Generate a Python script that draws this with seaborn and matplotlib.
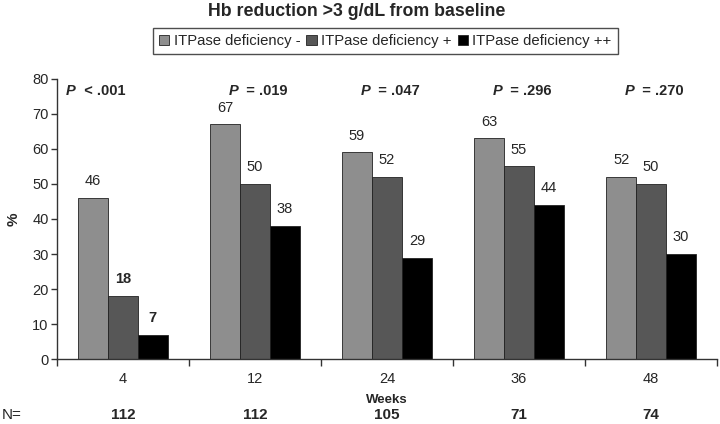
import pandas as pd
import numpy as np
import seaborn as sns
import matplotlib.pyplot as plt

weeks = ["4", "12", "24", "36", "48"]
groups = ["ITPase deficiency -", "ITPase deficiency +", "ITPase deficiency ++"]
pct_minus = [46, 67, 59, 63, 52]
pct_plus = [18, 50, 52, 55, 50]
pct_plusplus = [7, 38, 29, 44, 30]
p_values = ["< .001", "= .019", "= .047", "= .296", "= .270"]
n_counts = ["112", "112", "105", "71", "74"]
bold_labels = [(0, 1), (0, 2)]  # (week index, group index) shown in bold

df = pd.DataFrame({
    "Weeks": weeks * 3,
    "group": np.repeat(groups, len(weeks)),
    "pct": pct_minus + pct_plus + pct_plusplus,
})

sns.set_style("white")
plt.rcParams["font.family"] = ["Liberation Sans", "DejaVu Sans"]

fig, ax = plt.subplots(figsize=(7.2, 4.24), dpi=100)
bottom, top = 0.153, 0.814
fig.subplots_adjust(left=0.079, right=0.996, bottom=bottom, top=top)

palette = ["#8e8e8e", "#575757", "#000000"]
sns.barplot(data=df, x="Weeks", y="pct", hue="group", order=weeks, hue_order=groups,
            palette=palette, width=0.68, saturation=1, ax=ax,
            edgecolor="#222222", linewidth=0.6, legend=True)

ax.set_ylim(0, 80)
ax.set_xlim(-0.5, len(weeks) - 0.5)
ax.set_yticks(range(0, 81, 10))
ax.tick_params(axis="y", length=4, width=1, color="#333333", labelsize=10.5, pad=2, left=True)
ax.set_xticks(range(len(weeks)))
ax.set_xticklabels(weeks)
ax.tick_params(axis="x", length=0, labelsize=10.5, pad=9)
# tick marks between groups
ax.set_xticks(np.arange(-0.5, len(weeks)), minor=True)
ax.tick_params(axis="x", which="minor", length=5, width=1, color="#333333", bottom=True)
for s in ["top", "right"]:
    ax.spines[s].set_visible(False)
for s in ["left", "bottom"]:
    ax.spines[s].set_color("#333333")
    ax.spines[s].set_linewidth(1)

ax.set_xlabel("Weeks", fontsize=9.5, fontweight="bold", labelpad=6)
ax.set_ylabel("%", fontsize=11, fontweight="bold", labelpad=8)

# value labels
for gi, cont in enumerate(ax.containers):
    for wi, bar in enumerate(cont):
        h = bar.get_height()
        fw = "bold" if (wi, gi) in bold_labels else "normal"
        ax.annotate(f"{h:.0f}", (bar.get_x() + bar.get_width() / 2, h),
                    xytext=(0, 7), textcoords="offset points",
                    ha="center", va="bottom", fontsize=10.5, fontweight=fw)

# P values
p_offsets = [-0.43, -0.2, -0.2, -0.2, -0.2]
for i, pv in enumerate(p_values):
    t = ax.text(i + p_offsets[i], 76.5, "P", fontsize=10.5, fontweight="bold",
                fontstyle="italic", ha="left", va="center")
    ax.annotate("  " + pv, xy=(1, 0.5), xycoords=t, ha="left", va="center",
                fontsize=10.5, fontweight="bold")

# N row under the axis
n_fig_y = 1 - 415 / 424
n_ax_y = (n_fig_y - bottom) / (top - bottom)
fig.text(0.002, n_fig_y, "N=", fontsize=11, ha="left", va="center")
for i, n in enumerate(n_counts):
    ax.text(i, n_ax_y, n, transform=ax.get_xaxis_transform(), fontsize=11,
            fontweight="bold", ha="center", va="center")

fig.text(0.495, 0.993, "Hb reduction >3 g/dL from baseline", fontsize=12.8,
         fontweight="bold", ha="center", va="top")

leg = ax.legend(loc="center", bbox_to_anchor=(0.535, 0.903), bbox_transform=fig.transFigure,
                ncol=3, fontsize=10.7, frameon=True, fancybox=False, handlelength=0.7,
                handleheight=0.7, handletextpad=0.3, columnspacing=0.4,
                borderpad=0.4, borderaxespad=0)
leg.get_frame().set_edgecolor("#222222")
leg.get_frame().set_linewidth(1)

fig.savefig("out.png", dpi=100)
